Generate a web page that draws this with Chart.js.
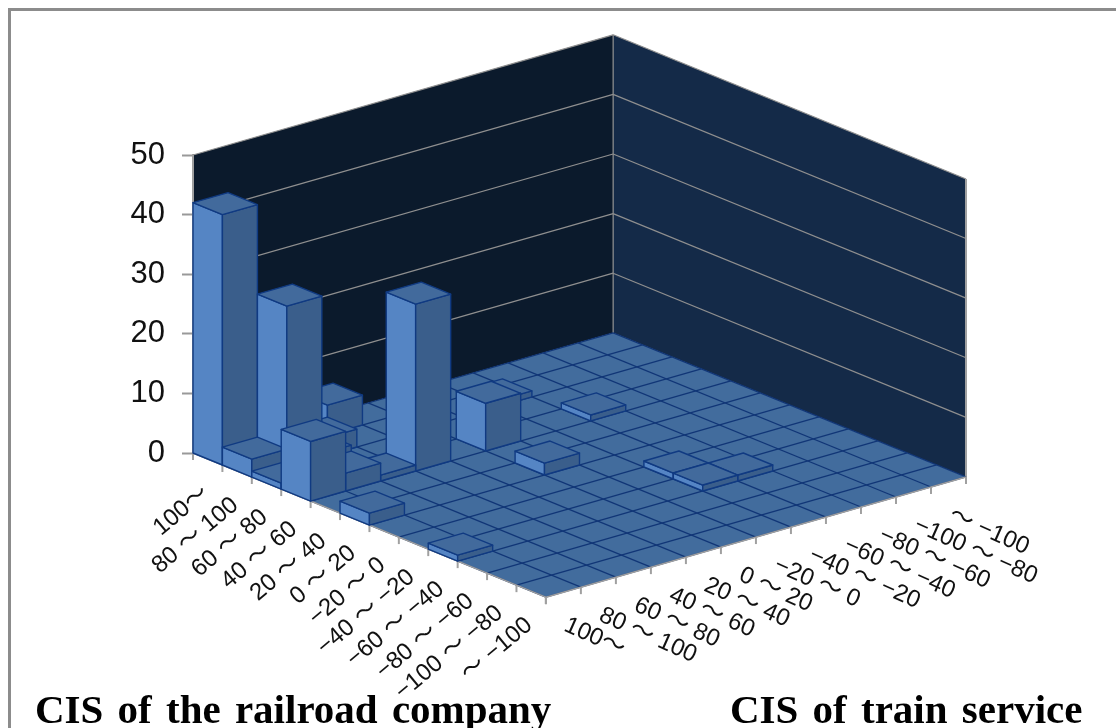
<!DOCTYPE html>
<html>
<head>
<meta charset="utf-8">
<style>html,body{margin:0;padding:0;background:#fff}canvas{display:block}</style>
<script src="https://cdn.jsdelivr.net/npm/chart.js@4/dist/chart.umd.min.js"></script>
</head>
<body>
<canvas id="c" width="1116" height="728"></canvas>
<script>
// Score bins on both horizontal axes
const railroadBins = ['100～','80 ～ 100','60 ～ 80','40 ～ 60','20 ～ 40','0 ～ 20','−20 ～ 0','−40 ～ −20','−60 ～ −40','−80 ～ −60','−100 ～ −80','～ −100'];
const trainBins = ['100～','80 ～ 100','60 ～ 80','40 ～ 60','20 ～ 40','0 ～ 20','−20 ～ 0','−40 ～ −20','−60 ～ −40','−80 ～ −60','−100 ～ −80','～ −100'];
// One list per railroad bin, one entry per train-service bin
const rail100    = [42,0,0,5,0,0,0,0,0,0,0,0];
const rail80     = [3,27,3,0,0,0,0,1,0,0,0,0];
const rail60     = [1,4,0,0,0,0,0,0,0,0,0,0];
const rail40     = [10,3,1,28,0,8,0,0,1,0,0,0];
const rail20     = [0,0,0,0,0,0,0,0,0,0,0,0];
const rail0      = [2,0,0,0,0,2,0,0,0,0,0,0];
const railM20    = [0,0,0,0,0,0,0,0,0,0,0,0];
const railM40    = [0,0,0,0,0,0,0,1,0,0,0,0];
const railM60    = [1,0,0,0,0,0,0,1,1,0,0,0];
const railM80    = [0,0,0,0,0,0,0,0,0,0,0,0];
const railM100   = [0,0,0,0,0,0,0,0,0,0,0,0];
const railLowest = [0,0,0,0,0,0,0,0,0,0,0,0];
const countRows = [rail100,rail80,rail60,rail40,rail20,rail0,railM20,railM40,railM60,railM80,railM100,railLowest];
const axisMax = 50, axisStep = 10;
const xAxisTitle = 'CIS of the railroad company';
const yAxisTitle = 'CIS of train service';

const points = [];
countRows.forEach((row, r) => row.forEach((v, t) => { if (v > 0) points.push({x: t, y: v, rail: r}); }));

const colors = {
  leftWall:'#0b1a2c', rightWall:'#142a48', floor:'#426c9d', floorLine:'#113677',
  wallLine:'#8f8f8f', axis:'#a0a0a0',
  barFront:'#5585c4', barSide:'#3a5e8b', barTop:'#426a9c', barEdge:'#103a82'
};

// Oblique projection of (rail bin, train bin, count) through the chart's scales
function projector(chart) {
  const xs = chart.scales.x, ys = chart.scales.y;
  const unit = xs.getPixelForValue(1) - xs.getPixelForValue(0);
  const stepRail  = {x: unit * 0.4565, y: unit * 0.1865};
  const stepTrain = {x: unit * 0.5435, y: unit * -0.1555};
  const x0 = xs.getPixelForValue(0);
  return (r, t, z) => ({
    x: x0 + r * stepRail.x + t * stepTrain.x,
    y: ys.getPixelForValue(z) + r * stepRail.y + t * stepTrain.y
  });
}

function poly(ctx, pts, fill, stroke, lw) {
  ctx.beginPath();
  pts.forEach((p, i) => i ? ctx.lineTo(p.x, p.y) : ctx.moveTo(p.x, p.y));
  ctx.closePath();
  if (fill) { ctx.fillStyle = fill; ctx.fill(); }
  if (stroke) { ctx.strokeStyle = stroke; ctx.lineWidth = lw; ctx.lineJoin = 'round'; ctx.stroke(); }
}
function seg(ctx, a, b, color, lw) {
  ctx.beginPath(); ctx.moveTo(a.x, a.y); ctx.lineTo(b.x, b.y);
  ctx.strokeStyle = color; ctx.lineWidth = lw; ctx.stroke();
}

const scene3d = {
  id: 'scene3d',
  beforeDatasetsDraw(chart) {
    const ctx = chart.ctx, P = projector(chart), n = railroadBins.length, m = trainBins.length;
    ctx.save();
    // chart frame: top and left rules only
    ctx.fillStyle = '#8c8c8c';
    ctx.fillRect(8, 8, 1108, 3);
    ctx.fillRect(8, 8, 3, 720);
    // back walls
    poly(ctx, [P(0,0,0),P(0,m,0),P(0,m,axisMax),P(0,0,axisMax)], colors.leftWall);
    poly(ctx, [P(0,m,0),P(n,m,0),P(n,m,axisMax),P(0,m,axisMax)], colors.rightWall);
    for (let z = axisStep; z <= axisMax; z += axisStep) {
      seg(ctx, P(0,0,z), P(0,m,z), colors.wallLine, 1.2);
      seg(ctx, P(0,m,z), P(n,m,z), colors.wallLine, 1.2);
    }
    seg(ctx, P(0,m,0), P(0,m,axisMax), colors.wallLine, 1.2);
    seg(ctx, P(n,m,0), P(n,m,axisMax), colors.axis, 2);
    seg(ctx, P(0,0,0), P(0,0,axisMax), colors.axis, 2);
    // floor and its grid
    poly(ctx, [P(0,0,0),P(n,0,0),P(n,m,0),P(0,m,0)], colors.floor);
    for (let r = 0; r <= n; r++) seg(ctx, P(r,0,0), P(r,m,0), colors.floorLine, 1.3);
    for (let t = 0; t <= m; t++) seg(ctx, P(0,t,0), P(n,t,0), colors.floorLine, 1.3);
    // front edges with tick marks
    seg(ctx, P(0,0,0), P(n,0,0), colors.axis, 1.5);
    seg(ctx, P(n,0,0), P(n,m,0), colors.axis, 1.5);
    for (let r = 0; r <= n; r++) { const a = P(r,0,0); seg(ctx, a, {x:a.x, y:a.y+7}, colors.axis, 2); }
    for (let t = 0; t <= m; t++) { const a = P(n,t,0); seg(ctx, a, {x:a.x, y:a.y+7}, colors.axis, 2); }
    ctx.restore();
  },
  afterDatasetsDraw(chart) {
    const ctx = chart.ctx, P = projector(chart);
    const bars = chart.data.datasets[0].data.slice().sort((a, b) => (a.rail - a.x) - (b.rail - b.x));
    ctx.save();
    // columns are painted from the far corner towards the viewer
    for (const b of bars) {
      const r = b.rail, t = b.x, v = b.y;
      poly(ctx, [P(r,t,0),P(r+1,t,0),P(r+1,t,v),P(r,t,v)], colors.barFront, colors.barEdge, 1.4);
      poly(ctx, [P(r+1,t,0),P(r+1,t+1,0),P(r+1,t+1,v),P(r+1,t,v)], colors.barSide, colors.barEdge, 1.4);
      poly(ctx, [P(r,t,v),P(r+1,t,v),P(r+1,t+1,v),P(r,t+1,v)], colors.barTop, colors.barEdge, 1.4);
    }
    ctx.restore();
  },
  afterDraw(chart) {
    const ctx = chart.ctx, P = projector(chart), n = railroadBins.length;
    ctx.save();
    ctx.fillStyle = '#111';
    ctx.font = '24px "Liberation Sans", "Noto Sans CJK JP", sans-serif';
    // railroad bins run along the lower-left edge, rising to the right
    ctx.textAlign = 'right'; ctx.textBaseline = 'middle';
    railroadBins.forEach((label, i) => {
      const a = P(i + 0.5, 0, 0);
      ctx.save();
      ctx.translate(a.x - 2, a.y + 31);
      ctx.rotate(-40 * Math.PI / 180);
      ctx.fillText(label, 0, 0);
      ctx.restore();
    });
    // train-service bins run along the lower-right edge, falling to the right
    ctx.textAlign = 'left';
    trainBins.forEach((label, j) => {
      const a = P(n, j + 0.5, 0);
      ctx.save();
      ctx.translate(a.x + 2, a.y + 32);
      ctx.rotate(24 * Math.PI / 180);
      ctx.fillText(label, 0, 0);
      ctx.restore();
    });
    ctx.fillStyle = '#000';
    ctx.font = 'bold 41px "Liberation Serif", serif';
    ctx.wordSpacing = '4px';
    ctx.textBaseline = 'alphabetic';
    ctx.textAlign = 'left';
    ctx.fillText(xAxisTitle, 35, 723);
    ctx.fillText(yAxisTitle, 730, 723);
    ctx.restore();
  }
};

new Chart(document.getElementById('c'), {
  type: 'scatter',
  data: { datasets: [{ label: 'Count', data: points, pointRadius: 0, showLine: false }] },
  options: {
    responsive: false, animation: false,
    layout: { padding: { top: 155, bottom: 275, left: 0, right: 150 } },
    plugins: { legend: { display: false }, tooltip: { enabled: false } },
    scales: {
      x: { type: 'linear', min: 0, max: railroadBins.length, display: false },
      y: {
        type: 'linear', min: 0, max: axisMax,
        afterFit(s) { s.width = 193; s.paddingTop = 0; s.paddingBottom = 0; },
        ticks: { stepSize: axisStep, padding: 17, color: '#111', font: { family: '"Liberation Sans"', size: 31 } },
        grid: { drawOnChartArea: false, drawTicks: true, tickLength: 11, tickColor: '#999', tickWidth: 2 },
        border: { color: '#a0a0a0', width: 2 }
      }
    }
  },
  plugins: [scene3d]
});
</script>
</body>
</html>
